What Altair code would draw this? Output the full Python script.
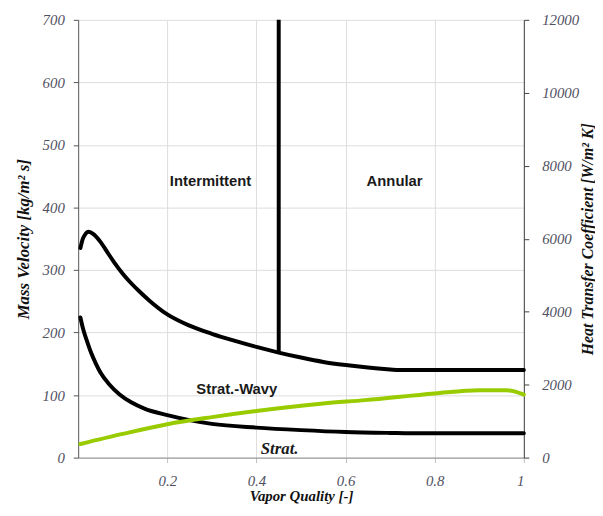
import altair as alt
import pandas as pd

# Transition curve: stratified-wavy / intermittent-annular boundary (left axis, kg/m2 s)
upper_x = [0.005, 0.010, 0.015, 0.023, 0.035, 0.050, 0.065, 0.080, 0.100, 0.120,
           0.137, 0.160, 0.200, 0.250, 0.300, 0.350, 0.400, 0.450, 0.500, 0.550,
           0.600, 0.650, 0.700, 0.720, 1.000]
upper_g = [335, 349, 356, 361, 357, 345, 329, 313, 294, 278,
           266, 251, 229, 211, 198, 187, 177, 168, 160, 153,
           148, 144, 141, 140, 140]

# Transition curve: stratified / stratified-wavy boundary
lower_x = [0.005, 0.011, 0.020, 0.030, 0.040, 0.050, 0.070, 0.093, 0.120, 0.150,
           0.200, 0.250, 0.300, 0.400, 0.500, 0.600, 0.700, 0.750, 1.000]
lower_g = [224, 206, 186, 166, 150, 136, 117, 101, 88, 78,
           68, 60, 54, 48, 44, 41, 39.5, 39, 39]

# Intermittent / annular boundary
trans_x = [0.45]
trans_g_low = [168]
trans_g_high = [700]

# Heat transfer coefficient (right axis, W/m2 K)
htc_x = [0.005, 0.100, 0.200, 0.300, 0.400, 0.550, 0.644, 0.800, 0.900, 0.960, 1.000]
htc_v = [374, 650, 916, 1110, 1278, 1484, 1576, 1760, 1847, 1847, 1729]

# Region labels
region_names = ["Intermittent", "Annular", "Strat.-Wavy"]
region_x = [0.297, 0.710, 0.356]
region_g = [442, 443, 110]
strat_name = ["Strat."]
strat_x = [0.452]
strat_g = [14]

x_ticks = [0.2, 0.4, 0.6, 0.8, 1.0]
g_ticks = list(range(0, 701, 100))
h_ticks = list(range(0, 12001, 2000))

curves = pd.concat([
    pd.DataFrame({"x": upper_x, "g": upper_g, "s": "upper"}),
    pd.DataFrame({"x": lower_x, "g": lower_g, "s": "lower"}),
])
trans = pd.DataFrame({"x": trans_x, "g": trans_g_low, "g2": trans_g_high})
htc = pd.DataFrame({"x": htc_x, "h": htc_v})
regions = pd.DataFrame({"x": region_x, "g": region_g, "t": region_names})
strat = pd.DataFrame({"x": strat_x, "g": strat_g, "t": strat_name})

serif = "Liberation Serif"
label_col = "#4f4f62"

x_scale = alt.Scale(domain=[0, 1], nice=False)
g_scale = alt.Scale(domain=[0, 700], nice=False)
h_scale = alt.Scale(domain=[0, 12000], nice=False)

x_axis = alt.Axis(
    title="Vapor Quality [-]", values=x_ticks, format="~g", grid=True,
    gridColor="#dcdcdc", domainColor="#8c8c8c", tickColor="#bfbfbf", tickSize=5,
    labelFont=serif, labelFontStyle="italic", labelFontSize=15, labelColor=label_col,
    labelPadding=11, titleFont=serif, titleFontStyle="italic", titleFontWeight="bold",
    titleFontSize=15, titleColor="#111111", titlePadding=0,
)
g_axis = alt.Axis(
    title="Mass Velocity [kg/m² s]", values=g_ticks, grid=True, gridColor="#dcdcdc",
    domainColor="#555555", tickColor="#555555", tickSize=5,
    labelFont=serif, labelFontStyle="italic", labelFontSize=15, labelColor=label_col,
    labelPadding=9, titleFont=serif, titleFontStyle="italic", titleFontWeight="bold",
    titleFontSize=17, titleColor="#111111", titlePadding=10,
)
h_axis = alt.Axis(
    title="Heat Transfer Coefficient [W/m² K]", orient="right", values=h_ticks, format="d",
    grid=False, domainColor="#404040", tickColor="#404040", tickSize=5,
    labelFont=serif, labelFontStyle="italic", labelFontSize=15, labelColor=label_col,
    labelPadding=13, titleFont=serif, titleFontStyle="italic", titleFontWeight="bold",
    titleFontSize=16, titleColor="#111111", titlePadding=1, titleAngle=270,
    titleBaseline="top",
)

lines = alt.Chart(curves).mark_line(
    color="black", strokeWidth=4, interpolate="monotone", strokeCap="round"
).encode(
    x=alt.X("x:Q", scale=x_scale, axis=x_axis),
    y=alt.Y("g:Q", scale=g_scale, axis=g_axis),
    detail="s:N",
)
rule = alt.Chart(trans).mark_rule(color="black", strokeWidth=4).encode(
    x="x:Q", y="g:Q", y2="g2:Q"
)
region_text = alt.Chart(regions).mark_text(
    font="Liberation Sans", fontWeight="bold", fontSize=15, color="#1a1a1a"
).encode(x="x:Q", y="g:Q", text="t:N")
strat_text = alt.Chart(strat).mark_text(
    font=serif, fontWeight="bold", fontStyle="italic", fontSize=17, color="#1a1a1a"
).encode(x="x:Q", y="g:Q", text="t:N")

left = alt.layer(lines, rule, region_text, strat_text)

right = alt.Chart(htc).mark_line(
    color="#99cc00", strokeWidth=4, interpolate="monotone", strokeCap="round"
).encode(
    x=alt.X("x:Q", scale=x_scale),
    y=alt.Y("h:Q", scale=h_scale, axis=h_axis),
)

chart = alt.layer(left, right).resolve_scale(y="independent").properties(
    width=451, height=443,
    padding={"left": 71, "top": 9, "right": 72, "bottom": 48},
    autosize=alt.AutoSizeParams(type="none"),
).configure_view(stroke=None)

chart.save("out.html", embed_options={"renderer": "svg", "actions": False})
